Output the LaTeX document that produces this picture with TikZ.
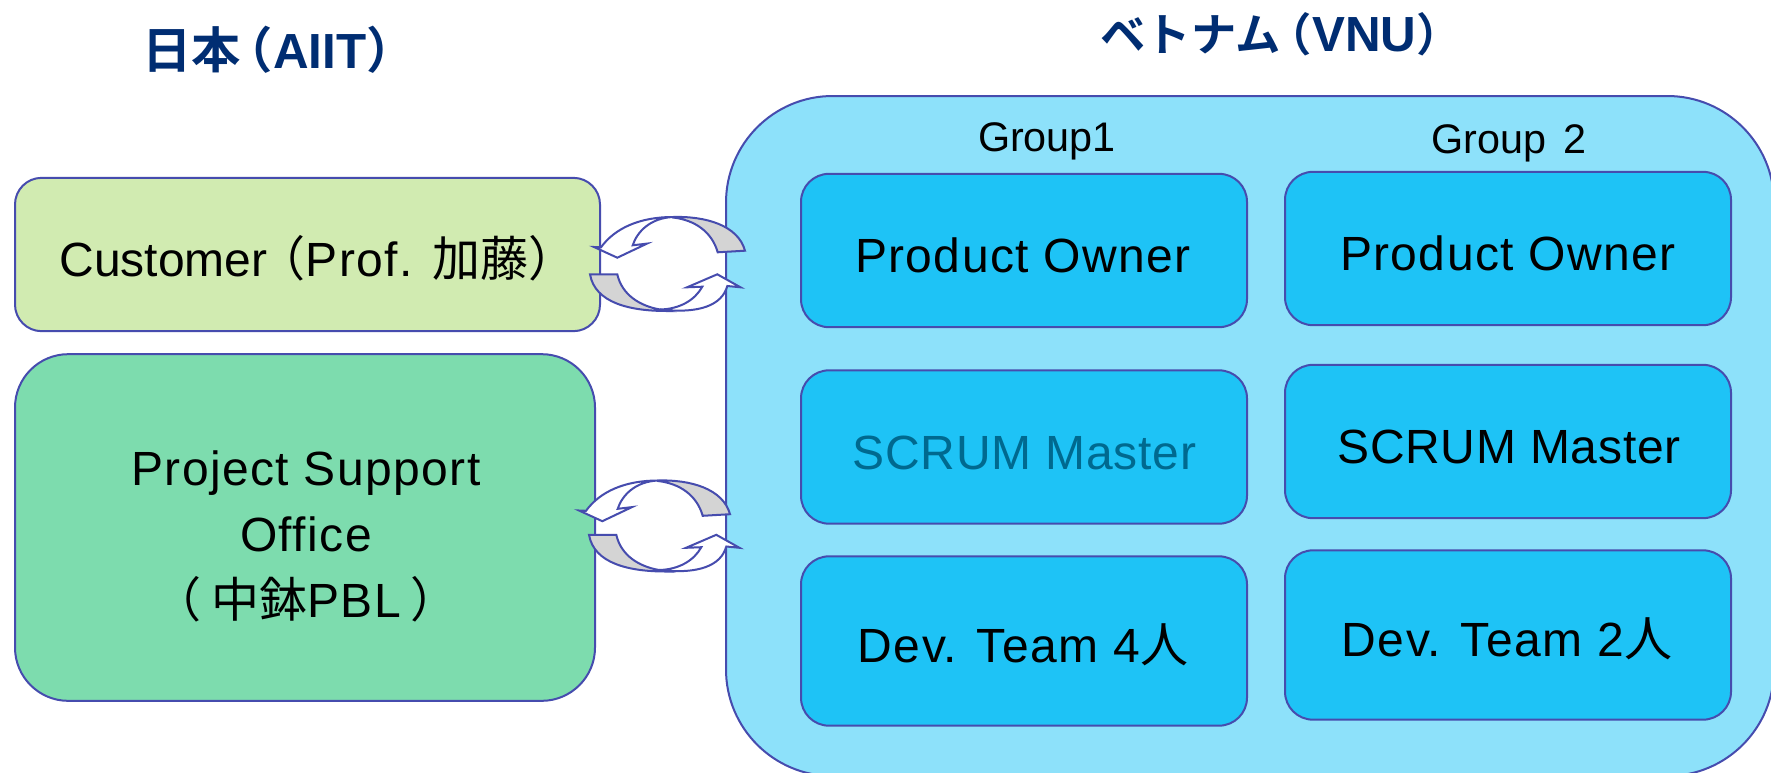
\documentclass[tikz,border=0pt]{standalone}
\usepackage{fontspec}
\setmainfont[LetterSpace=3]{Liberation Sans}
\newfontfamily\cjk{Noto Sans CJK JP}
\newfontfamily\cjkb{Noto Sans CJK JP Bold}
\newfontfamily\plainlat{Liberation Sans}
\newfontfamily\tightlat[LetterSpace=1.5]{Liberation Sans}
\newfontfamily\boldlat{Liberation Sans Bold}
\definecolor{edge}{HTML}{464CAE}
\definecolor{custfill}{HTML}{D1EBB1}
\definecolor{psofill}{HTML}{7DDCAE}
\definecolor{vnufill}{HTML}{8DE1FA}
\definecolor{rolefill}{HTML}{1EC3F6}
\definecolor{navy}{HTML}{002D72}
\definecolor{dimtext}{HTML}{00698F}
\definecolor{ribbon}{HTML}{D4D4D4}
\tikzset{
  panel/.style={draw=edge,line width=1.5pt,inner sep=0pt},
  rolebox/.style={panel,fill=rolefill,rounded corners=21pt,minimum width=334.5pt,minimum height=115pt},
  label/.style={inner sep=0pt,text height=26pt,text depth=0pt,font=\fontsize{36pt}{40pt}\selectfont},
  grouplabel/.style={inner sep=0pt,text height=22.3pt,text depth=0pt,font=\fontsize{31pt}{36pt}\plainlat},
  title/.style={inner sep=0pt,text height=26.6pt,text depth=0pt,text=navy,font=\fontsize{37pt}{40pt}\boldlat},
  front/.style={draw=edge,line width=1.5pt,fill=white,line join=miter},
  back/.style={draw=edge,line width=1.5pt,fill=ribbon,line join=miter},
  upperring/.pic={
    \path[back] (673,217) .. controls (705,216) and (738,225) .. (745,250.7)
      -- (717.7,252.3) .. controls (712,232) and (695,220) .. (673,217.5) -- cycle;
    \path[front] (594,247) -- (601,247.3) .. controls (615,228) and (640,217) .. (673,217)
      .. controls (650,218) and (637,232) .. (632.7,245.3)
      -- (647,243.6) -- (617.3,257.7) -- cycle;
  },
  lowerring/.pic={
    \path[back] (590,274.3) -- (617.3,274.3) .. controls (622,295) and (640,306) .. (660,309.5)
      -- (667,311) .. controls (630,311) and (595,303) .. (590,274.3) -- cycle;
    \path[front] (702.3,286.7) .. controls (695,300) and (680,309) .. (660,309.5)
      .. controls (700,314) and (722,305) .. (727.3,286)
      -- (740.5,287.3) -- (717.3,274.3) -- (687,287.3) -- cycle;
  },
}
\begin{document}
\begin{tikzpicture}[x=.75pt,y=-.75pt]
\path[use as bounding box,fill=white] (0,0) rectangle (1771,772);
\clip (0,0) rectangle (1771,772);
% panels
\node[panel,fill=custfill,rounded corners=20pt,minimum width=438.75pt,minimum height=115pt] (customer) at (307.5,254.5) {};
\node[panel,fill=psofill,rounded corners=40pt,minimum width=435pt,minimum height=260pt] (pso) at (305,527.5) {};
\node[panel,fill=vnufill,rounded corners=80pt,minimum width=786pt,minimum height=510pt] (vnu) at (1250,436) {};
% role boxes
\node[rolebox] (po1) at (1024,250.5) {};
\node[rolebox] (sm1) at (1024,447) {};
\node[rolebox,minimum height=127pt] (dev1) at (1024,641) {};
\node[rolebox] (po2) at (1508,248.5) {};
\node[rolebox] (sm2) at (1508,441.5) {};
\node[rolebox,minimum height=127pt] (dev2) at (1508,635) {};
% ribbons
\pic at (0,0) {upperring};
\pic at (0,0) {lowerring};
\pic at (-15,263.5) {upperring};
\pic at (-1,260.5) {lowerring};
% texts
\node[title] (jp) at (279,51) {{\cjkb 日本\hspace{-.35em}（}AIIT{\cjkb ）\hspace{-.5em}}};
\node[title] (vn) at (1281,34) {{\fontsize{34pt}{40pt}\cjkb ベトナム\hspace{-.3em}（}VNU{\fontsize{34pt}{40pt}\cjkb ）\hspace{-.5em}}};
\node[grouplabel] (g1) at (1047,137) {Group1};
\node[grouplabel] (g2) at (1509,139) {Group\hspace{.15em} 2};
\node[label] (customertext) at (318,259) {{\plainlat Customer}\hspace{-.2em}{\cjk （}Prof. {\cjk 加藤）\hspace{-.5em}}};
\node[label] (psotext1) at (306,468) {Project Support};
\node[label] (psotext2) at (306,534) {Office};
\node[label] (psotext3) at (306,600) {{\cjk （\hspace{.2em}中鉢}PBL{\cjk \hspace{.2em}）}};
\node[label] (potext1) at (1023,255) {Product Owner};
\node[label,text=dimtext] (smtext1) at (1024.5,452) {\tightlat SCRUM Master};
\node[label] (devtext1) at (1023,645) {Dev. Team 4{\cjk 人}};
\node[label] (potext2) at (1508,253) {Product Owner};
\node[label] (smtext2) at (1509,446) {\tightlat SCRUM Master};
\node[label] (devtext2) at (1507,639) {Dev. Team 2{\cjk 人}};
\end{tikzpicture}
\end{document}
